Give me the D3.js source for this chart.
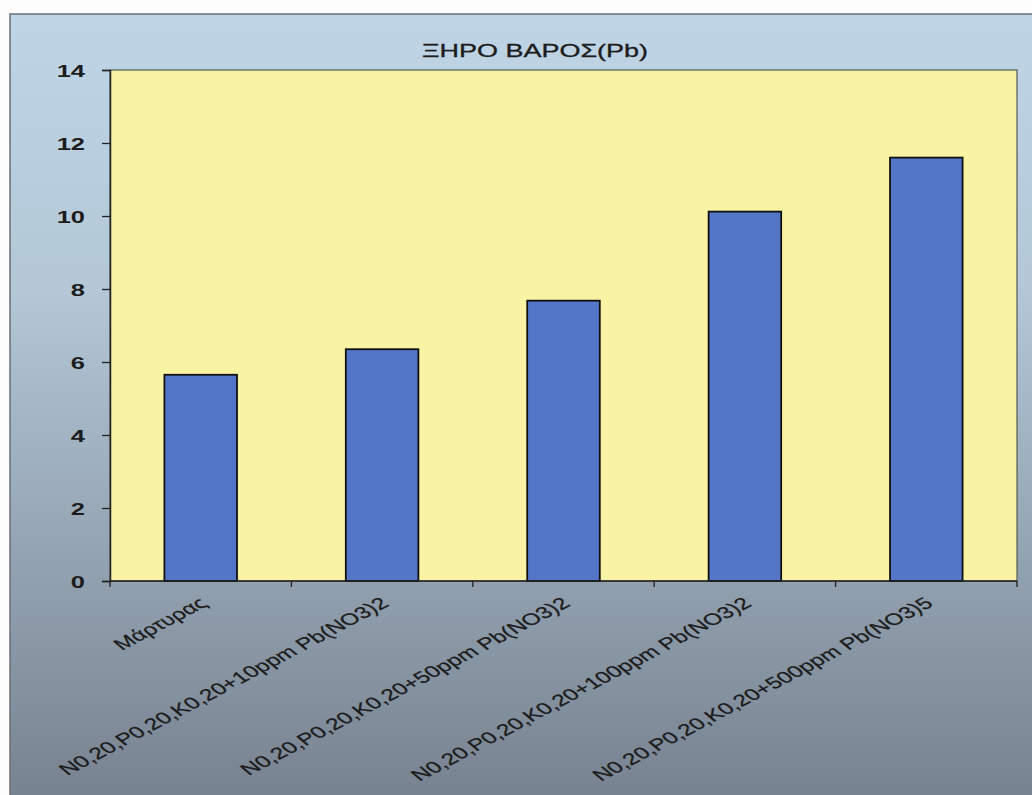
<!DOCTYPE html>
<html><head><meta charset="utf-8">
<script src="https://cdn.jsdelivr.net/npm/d3@7"></script>
<style>body{margin:0;background:#fff;} svg{display:block;}</style>
</head><body>
<svg id="c" width="1032" height="795"></svg>
<script>
const categories = ["Μάρτυρας","N0,20,P0,20,K0,20+10ppm Pb(NO3)2","N0,20,P0,20,K0,20+50ppm Pb(NO3)2","N0,20,P0,20,K0,20+100ppm Pb(NO3)2","N0,20,P0,20,K0,20+500ppm Pb(NO3)5"];
const values = [5.65, 6.35, 7.68, 10.12, 11.6];
const yTicks = [0,2,4,6,8,10,12,14];
const title = "ΞΗΡΟ ΒΑΡΟΣ(Pb)";

const svg = d3.select("#c");
const W = 1032, H = 795;
const plot = {l:110, r:1017, t:70, b:581};
const SX = 1.5;

const defs = svg.append("defs");
const g1 = defs.append("linearGradient").attr("id","bg").attr("x1",0).attr("y1",0).attr("x2",0).attr("y2",1);
g1.append("stop").attr("offset","0").attr("stop-color","#bfd5e6");
g1.append("stop").attr("offset","0.35").attr("stop-color","#b3c7d6");
g1.append("stop").attr("offset","0.7").attr("stop-color","#92a1b0");
g1.append("stop").attr("offset","1").attr("stop-color","#76818e");

svg.append("rect").attr("x",0).attr("y",0).attr("width",W).attr("height",H).attr("fill","#fdfdfd");
svg.append("rect").attr("x",10).attr("y",14).attr("width",W).attr("height",H)
  .attr("fill","url(#bg)").attr("stroke","#6a6f75").attr("stroke-width",1.5);

const x = d3.scaleBand().domain(categories).range([plot.l, plot.r]).paddingInner(0.6).paddingOuter(0.3);
const y = d3.scaleLinear().domain([0,14]).range([plot.b, plot.t]);

svg.append("rect").attr("x",plot.l).attr("y",plot.t).attr("width",plot.r-plot.l).attr("height",plot.b-plot.t)
  .attr("fill","#f8f4a4").attr("stroke","#55585a").attr("stroke-width",1.2);

svg.append("g").selectAll("rect").data(values).join("rect")
  .attr("x",(d,i)=>x(categories[i])).attr("y",d=>y(d))
  .attr("width",x.bandwidth()).attr("height",d=>y(0)-y(d))
  .attr("fill","#5376c9").attr("stroke","#111").attr("stroke-width",1.8);

// y axis
const ya = svg.append("g").attr("transform",`translate(${plot.l},0)`)
  .call(d3.axisLeft(y).tickValues(yTicks).tickSize(8).tickPadding(0));
ya.select(".domain").attr("stroke","#222").attr("stroke-width",1.5);
ya.selectAll(".tick line").attr("stroke","#222").attr("stroke-width",1.3);
ya.selectAll(".tick text").attr("x",-25/SX).attr("transform",`scale(${SX},1)`)
  .attr("font-family","Liberation Sans, Arial, sans-serif").attr("font-size",17).attr("font-weight","bold")
  .attr("fill","#1c1c1c").attr("dy","0.36em");

// x axis line and ticks at band boundaries
const step = x.step();
const bounds = d3.range(categories.length+1).map(i => i===0 ? plot.l : (i===categories.length ? plot.r : x(categories[i]) - x.paddingInner()*step/2));
svg.append("line").attr("x1",plot.l).attr("x2",plot.r).attr("y1",plot.b).attr("y2",plot.b).attr("stroke","#222").attr("stroke-width",1.5);
svg.append("g").selectAll("line").data(bounds).join("line")
  .attr("x1",d=>d).attr("x2",d=>d).attr("y1",plot.b).attr("y2",plot.b+6).attr("stroke","#222").attr("stroke-width",1.3);

// category labels
const ang = 38.5;
svg.append("g").selectAll("g").data(categories).join("g")
  .attr("transform",d=>`translate(${x(d)+x.bandwidth()/2+8},${plot.b+24}) scale(${SX},1) rotate(${-ang})`)
  .append("text").attr("text-anchor","end")
  .attr("font-family","Liberation Sans, Arial, sans-serif").attr("font-size",16.3).attr("fill","#1c1c1c")
  .attr("stroke","#1c1c1c").attr("stroke-width",0.25)
  .text(d=>d);

// title
svg.append("g").attr("transform",`translate(535,57) scale(${SX},1)`)
  .append("text").attr("text-anchor","middle")
  .attr("font-family","Liberation Sans, Arial, sans-serif").attr("font-size",18).attr("fill","#1c1c1c")
  .attr("stroke","#1c1c1c").attr("stroke-width",0.3)
  .text(title);
</script>
</body></html>
